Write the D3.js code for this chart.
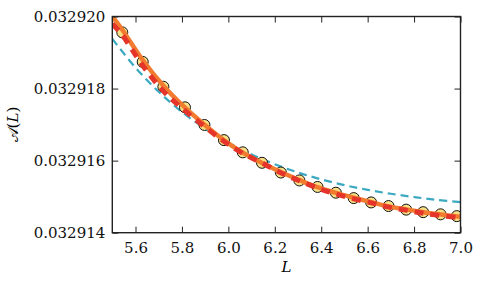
<!DOCTYPE html>
<html>
<head>
<meta charset="utf-8">
<script src="https://cdn.jsdelivr.net/npm/d3@7"></script>
<style>
  body { margin: 0; background: #fff; }
  text { font-family: "DejaVu Serif", serif; }
</style>
</head>
<body>
<div id="chart"></div>
<script>
// data points (circles)
var pointL = [5.543, 5.631, 5.720, 5.813, 5.897, 5.981, 6.062, 6.145, 6.226, 6.306,
              6.384, 6.463, 6.540, 6.615, 6.690, 6.766, 6.839, 6.914, 6.984];
var pointA = [0.03291956, 0.03291874, 0.03291805, 0.03291748, 0.03291699, 0.03291657,
              0.03291623, 0.03291594, 0.03291567, 0.03291545, 0.03291527, 0.03291511,
              0.03291496, 0.03291484, 0.03291474, 0.03291464, 0.03291457, 0.03291451,
              0.03291446];

// orange solid curve
var orangeL = [5.50, 5.54, 5.63, 5.72, 5.81, 5.90, 5.98, 6.06, 6.15, 6.23,
               6.31, 6.38, 6.46, 6.54, 6.62, 6.69, 6.77, 6.84, 6.91, 7.00];
var orangeA = [0.03292000, 0.03291966, 0.03291880, 0.03291808, 0.03291749, 0.03291698,
               0.03291657, 0.03291623, 0.03291592, 0.03291567, 0.03291545, 0.03291527,
               0.03291511, 0.03291497, 0.03291484, 0.03291473, 0.03291464, 0.03291457,
               0.03291451, 0.03291444];

// red dashed curve
var redL = [5.50, 5.54, 5.63, 5.72, 5.81, 5.90, 5.98, 6.06, 6.15, 6.23,
            6.31, 6.38, 6.46, 6.54, 6.62, 6.69, 6.77, 6.84, 6.91, 7.00];
var redA = [0.03291979, 0.03291951, 0.03291865, 0.03291793, 0.03291740, 0.03291693,
            0.03291654, 0.03291621, 0.03291592, 0.03291565, 0.03291543, 0.03291525,
            0.03291508, 0.03291494, 0.03291482, 0.03291471, 0.03291462, 0.03291454,
            0.03291448, 0.03291441];

// cyan dashed curve
var cyanL = [5.5, 5.6, 5.7, 5.8, 5.9, 6.0, 6.1, 6.2, 6.3, 6.4, 6.5, 6.6, 6.7, 6.8, 6.9, 7.0];
var cyanA = [0.03291938, 0.03291858, 0.03291791, 0.03291735, 0.03291689, 0.03291650,
             0.03291617, 0.03291590, 0.03291567, 0.03291548, 0.03291532, 0.03291519,
             0.03291508, 0.03291499, 0.03291491, 0.03291485];

var xTicks = [5.6, 5.8, 6.0, 6.2, 6.4, 6.6, 6.8, 7.0];
var yTicks = [0.032914, 0.032916, 0.032918, 0.032920];

var W = 483, H = 285,
    margin = {left: 112.3, top: 16.5, right: 22.5, bottom: 52.3},
    w = W - margin.left - margin.right,
    h = H - margin.top - margin.bottom;

var svg = d3.select('#chart').append('svg')
    .attr('width', W)
    .attr('height', H);

var x = d3.scaleLinear().domain([5.5, 7.0]).range([0, w]);
var y = d3.scaleLinear().domain([0.032914, 0.032920]).range([h, 0]);

var g = svg.append('g')
    .attr('transform', 'translate(' + margin.left + ',' + margin.top + ')');

g.append('clipPath').attr('id', 'clip')
  .append('rect').attr('width', w).attr('height', h);

var plot = g.append('g').attr('clip-path', 'url(#clip)');

function zipped(xs, ys) {
  return xs.map(function(d, i) { return [d, ys[i]]; });
}

var line = d3.line()
    .x(function(d) { return x(d[0]); })
    .y(function(d) { return y(d[1]); })
    .curve(d3.curveCatmullRom);

plot.append('path')
    .datum(zipped(cyanL, cyanA))
    .attr('d', line)
    .attr('fill', 'none')
    .attr('stroke', '#3aa9c1')
    .attr('stroke-width', 2.2)
    .attr('stroke-dasharray', '8,5');

plot.selectAll('circle')
    .data(zipped(pointL, pointA))
  .enter().append('circle')
    .attr('cx', function(d) { return x(d[0]); })
    .attr('cy', function(d) { return y(d[1]); })
    .attr('r', 5.5)
    .attr('fill', '#f6df84')
    .attr('stroke', '#111')
    .attr('stroke-width', 1);

plot.append('path')
    .datum(zipped(orangeL, orangeA))
    .attr('d', line)
    .attr('fill', 'none')
    .attr('stroke', '#f27b30')
    .attr('stroke-width', 4.5);

plot.append('path')
    .datum(zipped(redL, redA))
    .attr('d', line)
    .attr('fill', 'none')
    .attr('stroke', '#e5352b')
    .attr('stroke-width', 5)
    .attr('stroke-dasharray', '9,7');

// axes, ticks inward on all four sides
var tl = 6;
var fmtX = d3.format('.1f'), fmtY = d3.format('.6f');

g.append('g')
    .attr('transform', 'translate(0,' + h + ')')
    .call(d3.axisBottom(x).tickValues(xTicks).tickSizeInner(-tl).tickSizeOuter(0).tickPadding(10).tickFormat(fmtX));
g.append('g')
    .call(d3.axisTop(x).tickValues(xTicks).tickSizeInner(-tl).tickSizeOuter(0).tickFormat(''));
g.append('g')
    .call(d3.axisLeft(y).tickValues(yTicks).tickSizeInner(-tl).tickSizeOuter(0).tickPadding(7).tickFormat(fmtY));
g.append('g')
    .attr('transform', 'translate(' + w + ',0)')
    .call(d3.axisRight(y).tickValues(yTicks).tickSizeInner(-tl).tickSizeOuter(0).tickFormat(''));

g.selectAll('.domain').remove();
g.selectAll('.tick line').attr('stroke', '#222').attr('stroke-width', 1);
g.selectAll('.tick text')
    .attr('fill', '#111')
    .style('font-family', '"DejaVu Serif", serif')
    .style('font-size', '15px');

g.append('rect')
    .attr('width', w).attr('height', h)
    .attr('fill', 'none')
    .attr('stroke', '#222')
    .attr('stroke-width', 1.4);

// axis labels
svg.append('text')
    .attr('x', margin.left + w / 2)
    .attr('y', 272)
    .attr('text-anchor', 'middle')
    .style('font-size', '15px')
    .style('font-style', 'italic')
    .text('L');

var yl = svg.append('text')
    .attr('transform', 'translate(18,' + (margin.top + h / 2) + ')rotate(-90)')
    .attr('text-anchor', 'middle')
    .style('font-size', '15px');
yl.append('tspan').text('\uD835\uDC9C(');
yl.append('tspan').style('font-style', 'italic').text('L');
yl.append('tspan').text(')');
</script>
</body>
</html>
